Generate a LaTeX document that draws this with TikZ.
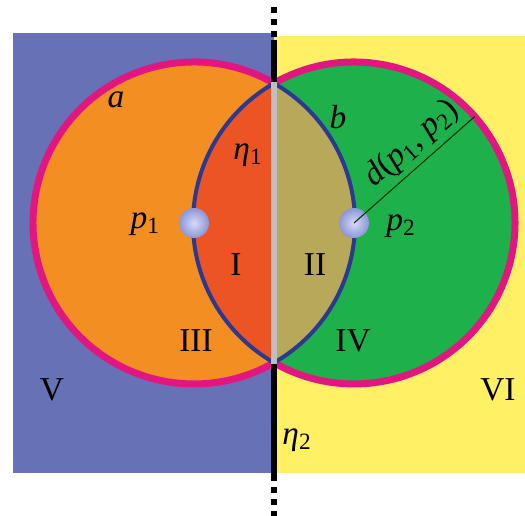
\documentclass[tikz,border=0pt]{standalone}
\usepackage{fontspec}
\setmainfont{Liberation Serif}
\usepackage{tikz}
\definecolor{bgblue}{RGB}{103,113,182}
\definecolor{bgyellow}{RGB}{255,240,102}
\definecolor{diskorange}{RGB}{243,142,34}
\definecolor{diskgreen}{RGB}{30,176,75}
\definecolor{lensred}{RGB}{236,84,36}
\definecolor{lensolive}{RGB}{184,168,90}
\definecolor{arcpink}{RGB}{226,22,128}
\definecolor{arcblue}{RGB}{43,57,145}
\definecolor{ballin}{RGB}{215,218,245}
\definecolor{ballout}{RGB}{140,150,215}
\newcommand{\lsub}[2]{\textit{#1}\textsubscript{#2}}

\begin{document}
\begin{tikzpicture}[x=0.02cm, y=0.02cm, every node/.style={font=\fontsize{19}{22}\selectfont, inner sep=1pt},
	outer/.style={draw=arcpink, line width=1.4mm}, inner/.style={draw=arcblue, line width=0.8mm},
	site/.style={circle, minimum size=6mm, inner sep=0pt, inner color=ballin, outer color=ballout}]
	\useasboundingbox (0,0) rectangle (525,516);
	\coordinate (ca) at (194,293);
	\coordinate (cb) at (354,293);
	% background
	\fill[bgblue] (13,43) rectangle (274,483);
	\fill[bgyellow] (274,43) rectangle (525,480);
	% disks and lens
	\fill[diskorange] (ca) circle (161);
	\fill[diskgreen] (cb) circle (161);
	\begin{scope}
		\clip (ca) circle (161);
		\clip (cb) circle (161);
		\fill[lensred] (100,0) rectangle (274,516);
		\fill[lensolive] (274,0) rectangle (450,516);
	\end{scope}
	\draw[outer] (ca) ++(60.2:161) arc[start angle=60.2, end angle=299.8, radius=161];
	\draw[outer] (cb) ++(119.8:161) arc[start angle=119.8, end angle=-119.8, radius=161];
	\draw[inner] (ca) ++(-60.2:161) arc[start angle=-60.2, end angle=60.2, radius=161];
	\draw[inner] (cb) ++(119.8:161) arc[start angle=119.8, end angle=240.2, radius=161];
	% the splitting line
	\coordinate (top) at (274,433.7);
	\coordinate (bot) at (274,152.3);
	\draw[black!25, line width=1.3mm] (top) -- (bot);
	\draw[black, line width=1.4mm] (top) -- (274,476) (bot) -- (274,35);
	\draw[black, line width=1.4mm, dash pattern=on 1.2mm off 1.2mm] (274,509) -- (274,479) (274,29) -- (274,-1);
	% sites and radius
	\node[site] (p1) at (ca) {};
	\node[site] (p2) at (cb) {};
	\path (cb) ++(41.4:161) coordinate (rim);
	\draw[black!80!green, line width=0.6pt] (p2.center) -- (rim);
	\node[rotate=41.4] (dist) at (412,372) {\textit{d}(\lsub{p}{1}, \lsub{p}{2})};
	% labels
	\node[anchor=east] (lp1) at (162,292) {\lsub{p}{1}};
	\node (lp2) at (401,290) {\lsub{p}{2}};
	\node (la) at (116,416) {\textit{a}};
	\node (lb) at (338,399) {\textit{b}};
	\node (eta1) at (248,361) {\lsub{η}{1}};
	\node (eta2) at (297,76) {\lsub{η}{2}};
	\node (rI) at (236,251) {I};
	\node (rII) at (315,251) {II};
	\node (rIII) at (196,175) {III};
	\node (rIV) at (353,175) {IV};
	\node (rV) at (52,126) {V};
	\node (rVI) at (498,126) {VI};
\end{tikzpicture}
\end{document}
